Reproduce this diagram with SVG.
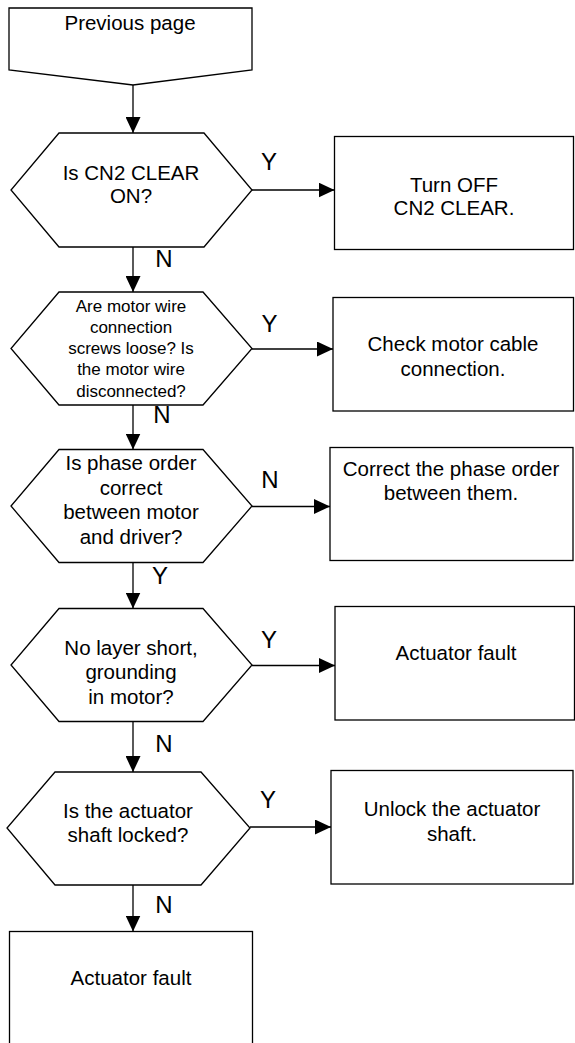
<svg xmlns="http://www.w3.org/2000/svg" width="575" height="1043" viewBox="0 0 575 1043">
<style>
.s{fill:#fff;stroke:#000;stroke-width:1.3}
.t{font-family:"Liberation Sans",Arial,sans-serif;font-size:20.5px;fill:#000;text-anchor:middle}
.m{font-size:17px}
.l{font-family:"Liberation Sans",Arial,sans-serif;font-size:24px;fill:#000;text-anchor:middle}
.c{stroke:#000;stroke-width:1.3;fill:none;marker-end:url(#ah)}
</style>
<defs>
<marker id="ah" markerUnits="userSpaceOnUse" markerWidth="16" markerHeight="15" refX="16" refY="7.5" orient="auto">
<path d="M0,0 L16,7.5 L0,15 z" fill="#000"/>
</marker>
</defs>
<rect width="575" height="1043" fill="#fff"/>
<g id="connectors">
<line class="c" x1="133" y1="85" x2="133" y2="133"/>
<line class="c" x1="252" y1="190" x2="334.5" y2="190"/>
<line class="c" x1="133" y1="247" x2="133" y2="292"/>
<line class="c" x1="252" y1="349" x2="333" y2="349"/>
<line class="c" x1="133" y1="405" x2="133" y2="449.5"/>
<line class="c" x1="252" y1="506.5" x2="330" y2="506.5"/>
<line class="c" x1="133" y1="562.5" x2="133" y2="608.5"/>
<line class="c" x1="252" y1="665.5" x2="335" y2="665.5"/>
<line class="c" x1="133" y1="722" x2="133" y2="772"/>
<line class="c" x1="250" y1="827" x2="331" y2="827"/>
<line class="c" x1="133" y1="885" x2="133" y2="931.5"/>
<text class="l" x="269" y="170">Y</text>
<text class="l" x="164" y="266.5">N</text>
<text class="l" x="269.5" y="331.5">Y</text>
<text class="l" x="162" y="423">N</text>
<text class="l" x="270" y="488">N</text>
<text class="l" x="160" y="584">Y</text>
<text class="l" x="269" y="648">Y</text>
<text class="l" x="164" y="751.5">N</text>
<text class="l" x="268" y="808">Y</text>
<text class="l" x="164" y="912.5">N</text>
</g>
<g id="prev">
<path class="s" d="M9,8 L252,8 L252,70 L133,85 L9,70 Z"/>
<text class="t" x="130" y="30">Previous page</text>
</g>
<g id="d1">
<path class="s" d="M59,133 L204,133 L252,190 L204,247 L59,247 L11,190 Z"/>
<text class="t" x="131" y="179.5">Is CN2 CLEAR</text>
<text class="t" x="131" y="202.5">ON?</text>
</g>
<g id="b1">
<rect class="s" x="334.5" y="136.5" width="239" height="113"/>
<text class="t" x="454" y="191.5">Turn OFF</text>
<text class="t" x="454" y="215">CN2 CLEAR.</text>
</g>
<g id="d2">
<path class="s" d="M59,292 L203,292 L252,348.5 L203,405 L59,405 L11,348.5 Z"/>
<text class="t m" x="131" y="311.5">Are motor wire</text>
<text class="t m" x="131" y="332.7">connection</text>
<text class="t m" x="131" y="354">screws loose? Is</text>
<text class="t m" x="131" y="375.3">the motor wire</text>
<text class="t m" x="131" y="396.5">disconnected?</text>
</g>
<g id="b2">
<rect class="s" x="333" y="297.5" width="240.5" height="113.5"/>
<text class="t" x="453" y="351">Check motor cable</text>
<text class="t" x="453" y="375.5">connection.</text>
</g>
<g id="d3">
<path class="s" d="M59,449.5 L203,449.5 L252,506 L203,562.5 L59,562.5 L11,506 Z"/>
<text class="t" x="131" y="470">Is phase order</text>
<text class="t" x="131" y="494.5">correct</text>
<text class="t" x="131" y="519">between motor</text>
<text class="t" x="131" y="543.5">and driver?</text>
</g>
<g id="b3">
<rect class="s" x="330" y="447.5" width="243" height="113"/>
<text class="t" x="451" y="476">Correct the phase order</text>
<text class="t" x="451" y="500">between them.</text>
</g>
<g id="d4">
<path class="s" d="M59,608.5 L203,608.5 L252,665 L203,721.5 L59,721.5 L11,665 Z"/>
<text class="t" x="131" y="654.5">No layer short,</text>
<text class="t" x="131" y="679">grounding</text>
<text class="t" x="131" y="703.5">in motor?</text>
</g>
<g id="b4">
<rect class="s" x="335" y="606.5" width="239.5" height="113.5"/>
<text class="t" x="456" y="660">Actuator fault</text>
</g>
<g id="d5">
<path class="s" d="M55,772 L201,772 L250,828 L201,885 L55,885 L7,828 Z"/>
<text class="t" x="128" y="818.3">Is the actuator</text>
<text class="t" x="128" y="841.7">shaft locked?</text>
</g>
<g id="b5">
<rect class="s" x="331" y="770.5" width="242" height="113.5"/>
<text class="t" x="452" y="816">Unlock the actuator</text>
<text class="t" x="452" y="840.5">shaft.</text>
</g>
<g id="b6">
<rect class="s" x="9.5" y="931.5" width="243" height="130"/>
<text class="t" x="131" y="985">Actuator fault</text>
</g>
</svg>
